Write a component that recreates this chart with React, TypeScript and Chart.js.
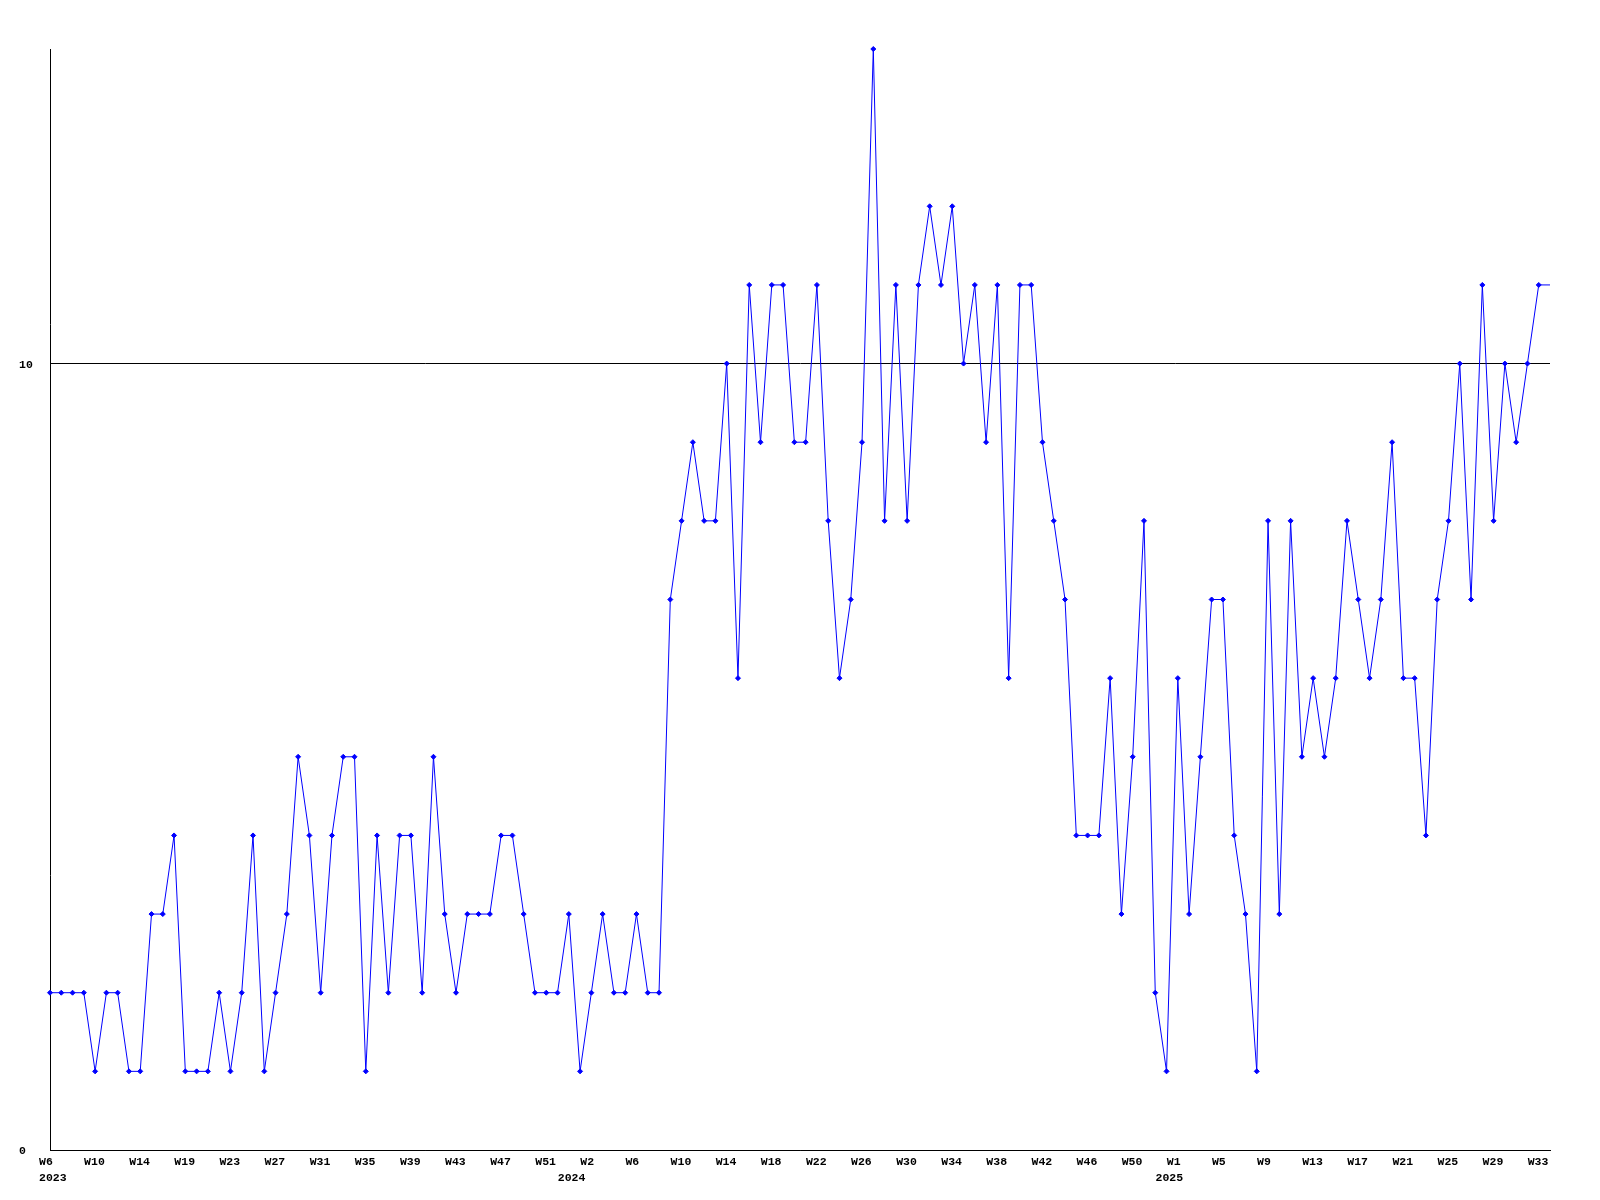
import React, { useEffect, useRef } from "react";
import { Chart, registerables } from "chart.js";

Chart.register(...registerables);

// Tick labels shown on the x axis (every 4th data point)
const weekTicks = [
  "W6", "W10", "W14", "W19", "W23", "W27", "W31", "W35", "W39", "W43", "W47", "W51",
  "W2", "W6", "W10", "W14", "W18", "W22", "W26", "W30", "W34", "W38", "W42", "W46", "W50",
  "W1", "W5", "W9", "W13", "W17", "W21", "W25", "W29", "W33",
];

// Year labels and the data index they sit under
const yearLabels = ["2023", "2024", "2025"];
const yearIndex = [0, 46, 99];

// Weekly values
const values = [
  2, 2, 2, 2, 1, 2, 2, 1, 1, 3, 3, 4, 1, 1, 1, 2, 1, 2, 4, 1, 2, 3, 5, 4, 2, 4,
  5, 5, 1, 4, 2, 4, 4, 2, 5, 3, 2, 3, 3, 3, 4, 4, 3, 2, 2, 2, 3, 1, 2, 3, 2, 2, 3, 2, 2,
  7, 8, 9, 8, 8, 10, 6, 11, 9, 11, 11, 9, 9, 11, 8, 6, 7, 9, 14, 8, 11, 8, 11, 12, 11, 12,
  10, 11, 9, 11, 6, 11, 11, 9, 8, 7, 4, 4, 4, 6, 3, 5, 8, 2, 1, 6, 3, 5, 7, 7, 4,
  3, 1, 8, 3, 8, 5, 6, 5, 6, 8, 7, 6, 7, 9, 6, 6, 4, 7, 8, 10, 7, 11, 8, 10, 9, 10, 11, 11,
];

// Y axis tick values
const yTickValues = [0, 10];
const yMin = 0;
const yMax = 14;

const FONT = { family: "'Liberation Mono', 'DejaVu Sans Mono', monospace", size: 11.5, weight: "bold" as const };
const FONT_CSS = "bold 11.5px 'Liberation Mono', 'DejaVu Sans Mono', monospace";

const labels = values.map((_, i) => (i % 4 === 0 ? weekTicks[i / 4] : ""));

const textPlugin = {
  id: "extraLabels",
  afterDraw(chart: any) {
    const ctx = chart.ctx;
    const xs = chart.scales.x;
    const ys = chart.scales.y;
    const bottom = chart.chartArea.bottom;
    ctx.save();
    ctx.font = FONT_CSS;
    ctx.fillStyle = "#000";
    ctx.textAlign = "left";
    ctx.textBaseline = "middle";
    yearLabels.forEach((t, i) => {
      ctx.fillText(t, xs.getPixelForValue(yearIndex[i]) - 11, bottom + 28);
    });
    yTickValues.forEach((v) => {
      ctx.fillText(String(v), 19, ys.getPixelForValue(v) + 1.5);
    });
    ctx.restore();
  },
};

export default function App() {
  const ref = useRef<HTMLCanvasElement | null>(null);

  useEffect(() => {
    if (!ref.current) return;
    const last = values.length - 1;
    const chart = new Chart(ref.current, {
      type: "line",
      data: {
        labels,
        datasets: [
          {
            data: values,
            borderColor: "#0000ff",
            backgroundColor: "#0000ff",
            borderWidth: 1,
            tension: 0,
            fill: false,
            clip: false,
            pointStyle: "rectRot",
            pointRadius: (c: any) => (c.dataIndex === last ? 0 : 2.5),
            pointBorderWidth: 1,
            pointBorderColor: "#0000ff",
            pointBackgroundColor: "#0000ff",
          },
        ],
      },
      options: {
        animation: false,
        responsive: false,
        devicePixelRatio: 1,
        layout: { padding: { left: 19, top: 49, right: 50, bottom: 0 } },
        plugins: {
          legend: { display: false },
          tooltip: { enabled: false },
        },
        scales: {
          x: {
            type: "category",
            offset: false,
            grid: { display: false, drawTicks: false },
            border: { display: true, color: "#000", width: 1 },
            ticks: {
              autoSkip: false,
              maxRotation: 0,
              minRotation: 0,
              align: "start",
              labelOffset: -11,
              padding: 5,
              color: "#000",
              font: FONT,
            },
            afterFit: (s: any) => {
              s.height = 50;
            },
          },
          y: {
            min: yMin,
            max: yMax,
            afterBuildTicks: (s: any) => {
              s.ticks = yTickValues.map((v) => ({ value: v }));
            },
            grid: { color: "#000", lineWidth: 1, drawTicks: false },
            border: { display: true, color: "#000", width: 1 },
            ticks: {
              color: "rgba(0,0,0,0)",
              font: FONT,
              padding: 0,
              callback: (v: any) => String(v),
            },
            afterFit: (s: any) => {
              s.width = 31;
            },
          },
        },
      },
      plugins: [textPlugin],
    } as any);
    return () => chart.destroy();
  }, []);

  return (
    <div style={{ position: "absolute", left: 0, top: 0, width: 1600, height: 1200, background: "#fff" }}>
      <canvas ref={ref} width={1600} height={1200} style={{ display: "block", width: 1600, height: 1200 }} />
    </div>
  );
}
